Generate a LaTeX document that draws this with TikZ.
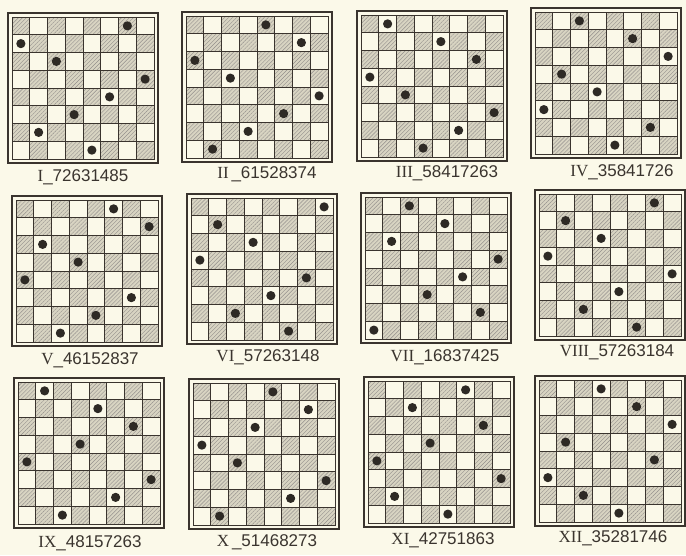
\documentclass[tikz,border=0pt]{standalone}
\usepackage{fontspec}
\setmainfont{Liberation Serif}
\newfontfamily\digfont{Liberation Sans}
\usetikzlibrary{patterns.meta}
\definecolor{paper}{RGB}{251,249,233}
\definecolor{ink}{RGB}{58,52,46}
\definecolor{shade}{RGB}{216,212,194}

\tikzset{
  cell/.style={fill=shade},
  hatch/.style={pattern={Lines[angle=45,distance=2.8pt,line width=0.4pt]},pattern color=ink!55},
  gridline/.style={draw=ink,line width=0.7pt},
  frame/.style={draw=ink,line width=1.8pt},
  queen/.style={fill=ink!80!black},
  caption/.style={font=\fontsize{17}{17}\selectfont,text=ink,inner sep=0pt}
}

% #1,#2 top left corner, #3 numeral, #4 digits, #5 same as list, #6,#7 caption centre
\newcommand{\board}[7]{%
  \begin{scope}[shift={(#1,#2)}]
    \foreach \i in {1,...,8} \foreach \j in {1,...,8} {
      \ifodd\numexpr\i+\j\relax\else
        \fill[cell] ({4+(\i-1)*17.75},{4+(\j-1)*17.75}) rectangle ++(17.75,17.75);
        \fill[hatch] ({4+(\i-1)*17.75},{4+(\j-1)*17.75}) rectangle ++(17.75,17.75);
      \fi}
    \foreach \k in {1,...,7} {
      \draw[gridline] ({4+\k*17.75},4) -- ({4+\k*17.75},146);
      \draw[gridline] (4,{4+\k*17.75}) -- (146,{4+\k*17.75});}
    \draw[frame] (0,0) rectangle (150,150);
    \draw[gridline] (4,4) rectangle (146,146);
    % queens: digit = row counted from the bottom
    \foreach \r [count=\c] in {#5}
      \fill[queen] ({4+(\c-0.5)*17.75},{4+(8.5-\r)*17.75}) circle[radius=4.6pt];
  \end{scope}
  \node[caption] (lbl#4) at (#6,#7) {#3{\digfont\_#4}};
}

\begin{document}
\begin{tikzpicture}[x=1pt,y=-1pt]
  \useasboundingbox (0,0) rectangle (686,555);
  \fill[paper] (0,0) rectangle (686,555);
  % first row
  \board{8}{13}{I}{72631485}{7,2,6,3,1,4,8,5}{83}{177}
  \board{182}{12}{II\,}{61528374}{6,1,5,2,8,3,7,4}{267}{174}
  \board{357}{11}{III}{58417263}{5,8,4,1,7,2,6,3}{447}{173}
  \board{531}{8}{IV}{35841726}{3,5,8,4,1,7,2,6}{622}{172}
  % second row
  \board{12}{196}{V}{46152837}{4,6,1,5,2,8,3,7}{90}{360}
  \board{187}{194}{VI}{57263148}{5,7,2,6,3,1,4,8}{268}{357}
  \board{361}{193}{VII}{16837425}{1,6,8,3,7,4,2,5}{445}{357}
  \board{535}{190}{VIII}{57263184}{5,7,2,6,3,1,8,4}{617}{352}
  % third row
  \board{14}{378}{IX}{48157263}{4,8,1,5,7,2,6,3}{90}{543}
  \board{189}{379}{X\,}{51468273}{5,1,4,6,8,2,7,3}{267}{542}
  \board{364}{377}{XI}{42751863}{4,2,7,5,1,8,6,3}{443}{540}
  \board{535}{376}{XII}{35281746}{3,5,2,8,1,7,4,6}{613}{538}
\end{tikzpicture}
\end{document}
